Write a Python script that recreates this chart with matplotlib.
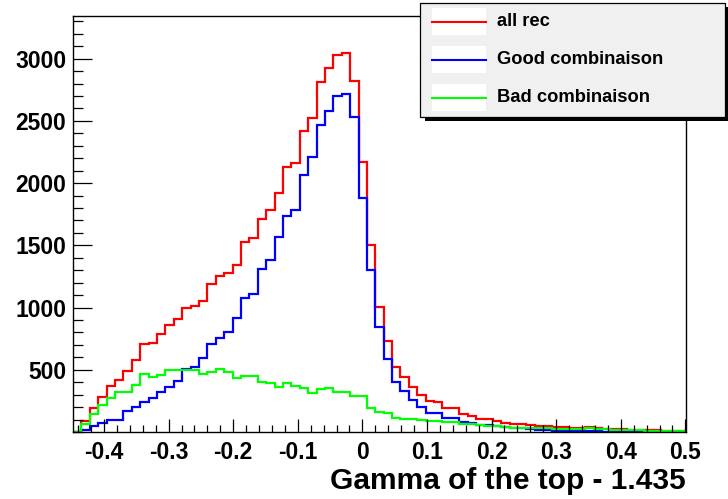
import numpy as np
import matplotlib
matplotlib.use('Agg')
import matplotlib.pyplot as plt
from matplotlib.patches import Rectangle
from matplotlib.lines import Line2D
from matplotlib.ticker import MultipleLocator

plt.rcParams['font.family'] = ['Liberation Sans', 'DejaVu Sans']
plt.rcParams['font.weight'] = 'bold'

# --- histogram contents (73 bins of width 0.013 starting at -0.448) ---
bin_lo = -0.448
bin_width = 0.013

all_rec = [0, 91, 196, 284, 373, 418, 493, 579, 708, 718, 785, 860, 909, 1000, 1016,
           1050, 1190, 1254, 1281, 1343, 1530, 1557, 1712, 1780, 1924, 2130, 2160,
           2420, 2522, 2811, 2924, 3026, 3042, 2822, 2173, 1503, 1002, 732, 525, 445,
           364, 300, 249, 244, 190, 190, 145, 129, 107, 105, 85, 75, 68, 64, 58, 52,
           45, 40, 38, 36, 35, 40, 30, 28, 24, 22, 20, 16, 14, 13, 12, 11, 10]

good_comb = [0, 16, 48, 70, 96, 96, 166, 204, 238, 276, 322, 359, 413, 509, 520,
             592, 708, 753, 801, 914, 1075, 1110, 1310, 1383, 1565, 1737, 1785,
             2066, 2208, 2468, 2576, 2704, 2717, 2535, 1884, 1302, 847, 584, 405, 332,
             257, 204, 155, 150, 115, 110, 83, 75, 56, 58, 45, 38, 34, 30, 25, 20,
             15, 12, 10, 8, 6, 5, 5, 4, 4, 3, 3, 3, 2, 2, 2, 2, 2]

bad_comb = [0, 64, 142, 217, 276, 322, 322, 381, 469, 442, 461, 501, 496, 498, 498,
            466, 485, 504, 480, 431, 453, 450, 405, 397, 359, 391, 372,
            351, 316, 343, 354, 324, 319, 289, 289, 195, 160, 156, 110, 102,
            102, 98, 91, 91, 78, 78, 62, 62, 60, 50, 45, 40, 36, 34, 32, 31,
            29, 28, 27, 26, 25, 35, 24, 22, 20, 19, 17, 13, 12, 11, 10, 9, 8]

series = [('all rec', all_rec, '#ff0000'),
          ('Good combinaison', good_comb, '#0000ff'),
          ('Bad combinaison', bad_comb, '#00ff00')]

x_ticks = [-0.4, -0.3, -0.2, -0.1, 0, 0.1, 0.2, 0.3, 0.4, 0.5]
x_tick_labels = ['-0.4', '-0.3', '-0.2', '-0.1', '0', '0.1', '0.2', '0.3', '0.4', '0.5']
y_ticks = [500, 1000, 1500, 2000, 2500, 3000]

W, H = 728, 499


def px(x, y):
    # pixel position (from top-left) -> figure fraction
    return x / W, 1 - y / H


fig = plt.figure(figsize=(W / 100, H / 100), dpi=100)
ax = fig.add_axes([73 / W, 1 - 432 / H, (686 - 73) / W, (432 - 15.5) / H])

edges = bin_lo + bin_width * np.arange(len(all_rec) + 1)
for name, vals, col in series:
    ax.stairs(vals, edges, color=col, linewidth=1.6, baseline=0)

ax.set_xlim(-0.448, 0.501)
ax.set_ylim(0, 3347)

ax.set_xticks(x_ticks)
ax.set_xticklabels(x_tick_labels)
ax.set_yticks(y_ticks)
ax.xaxis.set_minor_locator(MultipleLocator(0.02))
ax.yaxis.set_minor_locator(MultipleLocator(100))

ax.tick_params(which='both', direction='in', top=False, right=False, width=0.9, labelsize=16.5)
ax.tick_params(axis='x', which='major', length=9.5, pad=6.5)
ax.tick_params(axis='x', which='minor', length=4.7)
ax.tick_params(axis='y', which='major', length=13.7, pad=5)
ax.tick_params(axis='y', which='minor', length=7.2)
for lab in ax.get_xticklabels() + ax.get_yticklabels():
    lab.set_fontweight('bold')
for sp in ax.spines.values():
    sp.set_linewidth(1.0)

fig.text(*px(686, 481), 'Gamma of the top - 1.435', ha='right', va='center',
         fontsize=21.5, fontweight='bold')

# --- legend box with drop shadow ---
lx0, ly0, lx1, ly1 = 420.5, 2.5, 725, 116.5
shadow = 4
fig.add_artist(Rectangle(px(lx0 + shadow, ly1 + shadow), (lx1 - lx0) / W, (ly1 - ly0) / H,
                         transform=fig.transFigure, facecolor='black', edgecolor='none', zorder=5))
fig.add_artist(Rectangle(px(lx0, ly1), (lx1 - lx0) / W, (ly1 - ly0) / H,
                         transform=fig.transFigure, facecolor='#f0f0f0', edgecolor='black',
                         linewidth=0.9, zorder=6))

row_y = [21.5, 59.5, 97.5]
for (name, vals, col), ry in zip(series, row_y):
    fig.add_artist(Rectangle(px(432, ry + 13.5), 54 / W, 27 / H, transform=fig.transFigure,
                             facecolor='white', edgecolor='none', zorder=7))
    fig.add_artist(Line2D([432 / W, 486 / W], [1 - ry / H, 1 - ry / H], transform=fig.transFigure,
                          color=col, linewidth=1.5, zorder=8))
    fig.text(*px(497, ry), name, ha='left', va='center', fontsize=13.2,
             fontweight='bold', zorder=8)

fig.savefig('out.png', dpi=100)
